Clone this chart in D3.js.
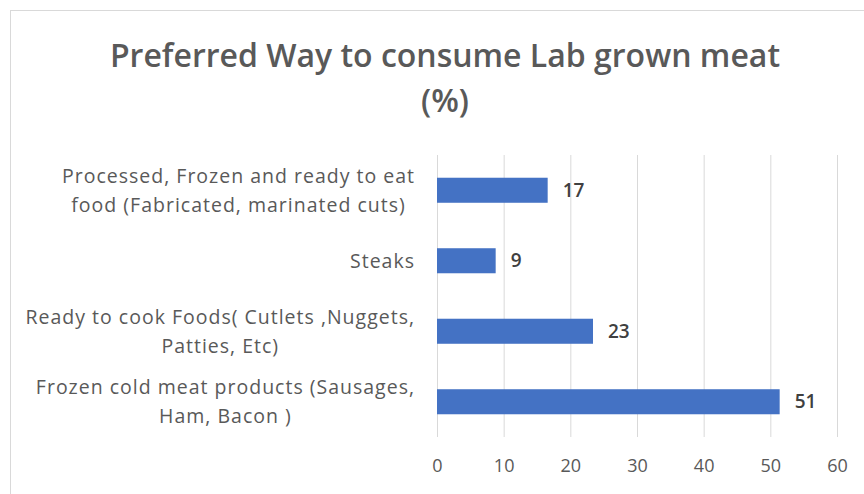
<!DOCTYPE html>
<html>
<head>
<meta charset="utf-8">
<script src="https://cdn.jsdelivr.net/npm/d3@7"></script>
<style>
  body { margin: 0; background: #fff; }
  svg { display: block; font-family: "Open Sans", "Liberation Sans", sans-serif; }
</style>
</head>
<body>
<div id="chart"></div>
<script>
// chart data, top to bottom
var categories = [
  ["Processed, Frozen and ready to eat", "food (Fabricated, marinated cuts)"],
  ["Steaks"],
  ["Ready to cook Foods( Cutlets ,Nuggets,", "Patties, Etc)"],
  ["Frozen cold meat products (Sausages,", "Ham, Bacon )"]
];
var values = [16.6, 8.8, 23.4, 51.4];
var valueLabels = ["17", "9", "23", "51"];
var xTicks = [0, 10, 20, 30, 40, 50, 60];
var titleLines = ["Preferred Way to consume Lab grown meat", "(%)"];

var W = 864, H = 494;
var plot = {left: 437, right: 837, top: 155, bottom: 437};

var svg = d3.select("#chart").append("svg")
  .attr("width", W)
  .attr("height", H);

// chart area border
svg.append("rect")
  .attr("x", 10.5).attr("y", 10.5)
  .attr("width", W + 10).attr("height", H + 10)
  .attr("fill", "#fff")
  .attr("stroke", "#d9d9d9");

var x = d3.scaleLinear().domain([0, 60]).range([plot.left, plot.right]);
var y = d3.scaleBand()
  .domain(d3.range(categories.length))
  .range([plot.top, plot.bottom])
  .paddingInner(0.645)
  .paddingOuter(0.3225);

// gridlines
svg.append("g")
  .selectAll("line")
  .data(xTicks)
  .enter().append("line")
  .attr("x1", function(d){ return x(d) + 0.5; })
  .attr("x2", function(d){ return x(d) + 0.5; })
  .attr("y1", plot.top)
  .attr("y2", plot.bottom)
  .attr("stroke", "#d9d9d9")
  .attr("stroke-width", 1);

// x axis labels, no domain line
var xAxis = svg.append("g")
  .attr("transform", "translate(0," + plot.bottom + ")")
  .call(d3.axisBottom(x).tickValues(xTicks).tickSize(0).tickPadding(22));
xAxis.select(".domain").remove();
xAxis.selectAll("text")
  .attr("fill", "#595959")
  .style("font-size", "18px")
  .style("font-family", "'Open Sans', sans-serif");

// bars
svg.append("g")
  .selectAll("rect")
  .data(values)
  .enter().append("rect")
  .attr("x", x(0))
  .attr("y", function(d, i){ return y(i); })
  .attr("width", function(d){ return x(d) - x(0); })
  .attr("height", y.bandwidth())
  .attr("fill", "#4472c4");

// value labels
svg.append("g")
  .selectAll("text")
  .data(values)
  .enter().append("text")
  .attr("x", function(d){ return x(d) + 15; })
  .attr("y", function(d, i){ return y(i) + y.bandwidth() / 2; })
  .attr("dy", "0.35em")
  .attr("fill", "#404040")
  .style("font-size", "19px")
  .style("font-weight", "600")
  .text(function(d, i){ return valueLabels[i]; });

// category labels: block right aligned, lines centered in block
var labelRight = 415, lineH = 29;
var catG = svg.append("g");
categories.forEach(function(lines, i){
  var g = catG.append("g");
  var cy = y(i) + y.bandwidth() / 2;
  var texts = lines.map(function(s, j){
    return g.append("text")
      .attr("y", cy + (j - (lines.length - 1) / 2) * lineH)
      .attr("dy", "0.35em")
      .attr("text-anchor", "middle")
      .attr("fill", "#595959")
      .style("font-size", "19.5px")
      .style("letter-spacing", "1px")
      .text(s);
  });
  var maxW = d3.max(texts, function(t){ return t.node().getComputedTextLength(); });
  texts.forEach(function(t){ t.attr("x", labelRight - maxW / 2); });
});

// title
svg.append("g")
  .selectAll("text")
  .data(titleLines)
  .enter().append("text")
  .attr("x", 445)
  .attr("y", function(d, i){ return 67 + i * 45; })
  .attr("text-anchor", "middle")
  .attr("fill", "#595959")
  .style("font-size", "32px")
  .style("font-weight", "600")
  .text(function(d){ return d; });
</script>
</body>
</html>
